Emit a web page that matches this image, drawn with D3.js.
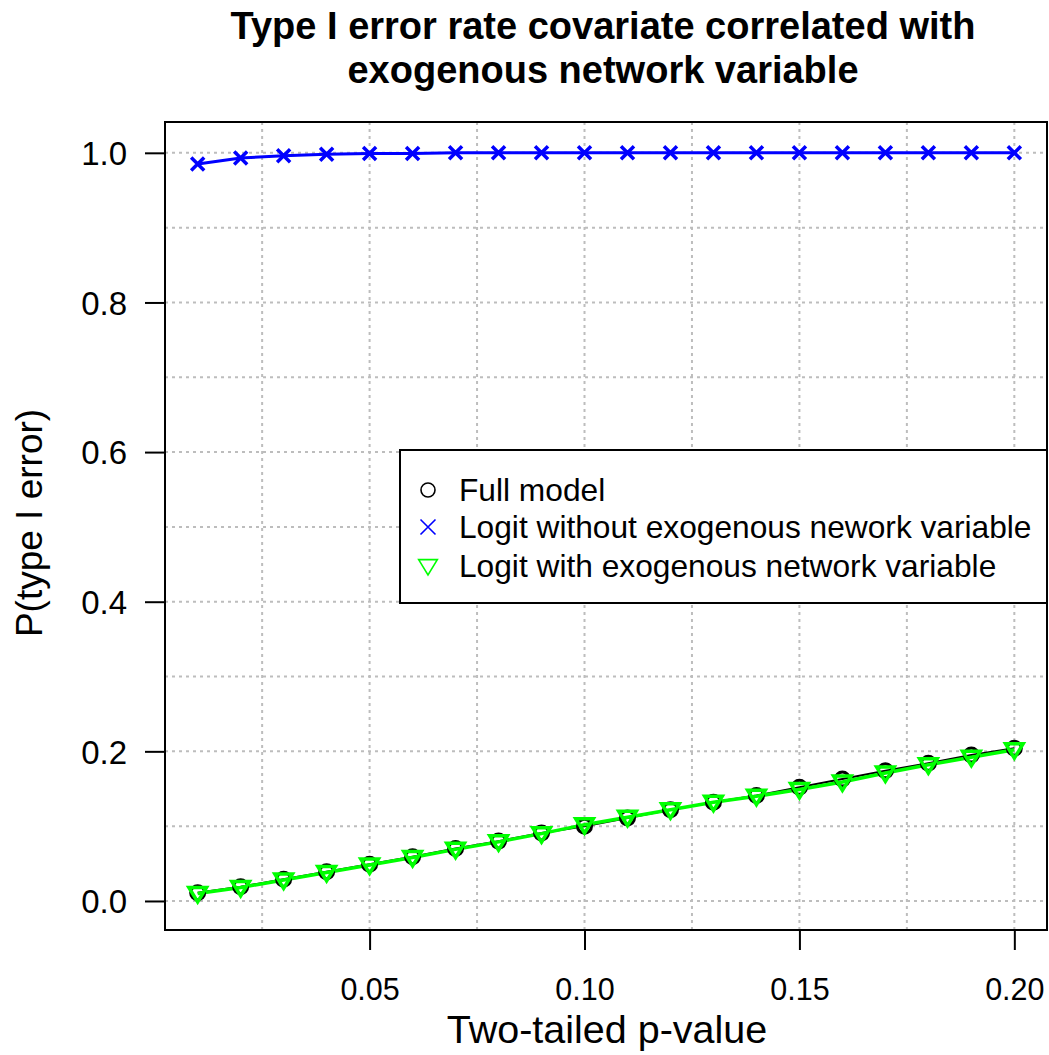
<!DOCTYPE html>
<html><head><meta charset="utf-8">
<script src="https://cdn.jsdelivr.net/npm/d3@7"></script>
<style>body{margin:0;background:#fff}svg{display:block}text{font-family:"Liberation Sans",Arial,sans-serif}</style>
</head><body><svg id="c" width="1049" height="1055"></svg>
<script>
const pValues = [0.01,0.02,0.03,0.04,0.05,0.06,0.07,0.08,0.09,0.10,0.11,0.12,0.13,0.14,0.15,0.16,0.17,0.18,0.19,0.20];
const fullModel = [0.011,0.019,0.029,0.039,0.049,0.059,0.070,0.080,0.091,0.100,0.111,0.122,0.132,0.141,0.152,0.163,0.174,0.184,0.195,0.204];
const logitWithout = [0.985,0.993,0.996,0.998,0.999,0.999,1.0,1.0,1.0,1.0,1.0,1.0,1.0,1.0,1.0,1.0,1.0,1.0,1.0,1.0];
const logitWith = [0.010,0.018,0.028,0.038,0.048,0.058,0.069,0.079,0.090,0.102,0.112,0.122,0.132,0.140,0.149,0.159,0.171,0.182,0.192,0.202];
const xTicks = [0.05,0.10,0.15,0.20];
const yTicks = [0.0,0.2,0.4,0.6,0.8,1.0];
const xGrid = [0.025,0.05,0.075,0.10,0.125,0.15,0.175,0.20];
const yGrid = [0.0,0.1,0.2,0.3,0.4,0.5,0.6,0.7,0.8,0.9,1.0];
const titleLines = ["Type I error rate covariate correlated with","exogenous network variable"];
const legendLabels = ["Full model","Logit without exogenous nework variable","Logit with exogenous network variable"];
const colors = ["#000000","#0000ff","#00ff00"];

const svg = d3.select("#c");
const L=165,R=1047,T=122,B=930;
const x = d3.scaleLinear().domain([0.0024,0.2076]).range([L,R]);
const y = d3.scaleLinear().domain([-0.0388,1.0412]).range([B,T]);

// grid
const g = svg.append("g");
g.selectAll("line.vx").data(xGrid).join("line")
  .attr("x1",d=>x(d)).attr("x2",d=>x(d)).attr("y1",T).attr("y2",B)
  .attr("stroke","#bdbdbd").attr("stroke-width",2).attr("stroke-dasharray","3,4");
g.selectAll("line.hy").data(yGrid).join("line")
  .attr("y1",d=>y(d)).attr("y2",d=>y(d)).attr("x1",L).attr("x2",R)
  .attr("stroke","#bdbdbd").attr("stroke-width",2).attr("stroke-dasharray","3,4");

// axes
const xa = svg.append("g").attr("transform",`translate(0,${B})`)
  .call(d3.axisBottom(x).tickValues(xTicks).tickFormat(d3.format(".2f")).tickSize(20));
xa.select(".domain").remove();
xa.selectAll("line").attr("stroke","#000").attr("stroke-width",2);
xa.selectAll("text").attr("font-size",30.5).attr("fill","#000").attr("dy",0).attr("y",70).attr("font-family","Liberation Sans, Arial, sans-serif");
const ya = svg.append("g").attr("transform",`translate(${L},0)`)
  .call(d3.axisLeft(y).tickValues(yTicks).tickFormat(d3.format(".1f")).tickSize(20).tickPadding(18));
ya.select(".domain").remove();
ya.selectAll("line").attr("stroke","#000").attr("stroke-width",2);
ya.selectAll("text").attr("font-size",33).attr("fill","#000").attr("dy","0.36em").attr("font-family","Liberation Sans, Arial, sans-serif");

// series lines
const series = [fullModel, logitWithout, logitWith];
const widths = [2,3,3.5];
const line = d3.line().x((d,i)=>x(pValues[i])).y(d=>y(d));
series.forEach((s,k)=>{
  svg.append("path").datum(s).attr("d",line).attr("fill","none").attr("stroke",colors[k]).attr("stroke-width",widths[k]);
});
// markers
const sym = {
  circle:(cx,cy,r)=>`M${cx+r},${cy}A${r},${r} 0 1,1 ${cx-r},${cy}A${r},${r} 0 1,1 ${cx+r},${cy}Z`,
  cross:(cx,cy,r)=>`M${cx-r},${cy-r}L${cx+r},${cy+r}M${cx-r},${cy+r}L${cx+r},${cy-r}`,
  tri:(cx,cy,r)=>`M${cx-r*1.1},${cy-r*0.75}L${cx+r*1.1},${cy-r*0.75}L${cx},${cy+r*1.05}Z`
};
svg.append("g").selectAll("path").data(fullModel).join("path")
  .attr("d",(d,i)=>sym.circle(x(pValues[i]),y(d),7)).attr("fill","none").attr("stroke","#000").attr("stroke-width",3);
svg.append("g").selectAll("path").data(logitWithout).join("path")
  .attr("d",(d,i)=>sym.cross(x(pValues[i]),y(d),6.5)).attr("fill","none").attr("stroke",colors[1]).attr("stroke-width",3.5);
svg.append("g").selectAll("path").data(logitWith).join("path")
  .attr("d",(d,i)=>sym.tri(x(pValues[i]),y(d),8)).attr("fill","none").attr("stroke",colors[2]).attr("stroke-width",3.5);

// box
svg.append("rect").attr("x",L).attr("y",T).attr("width",R-L).attr("height",B-T).attr("fill","none").attr("stroke","#000").attr("stroke-width",2);

// legend
const lg = svg.append("g");
lg.append("rect").attr("x",400).attr("y",450).attr("width",R-400).attr("height",153).attr("fill","#fff").attr("stroke","#000").attr("stroke-width",2);
const rows=[490,527,566];
const lsyms=[(cx,cy)=>sym.circle(cx,cy,7),(cx,cy)=>sym.cross(cx,cy,7.5),(cx,cy)=>sym.tri(cx,cy,8.5)];
legendLabels.forEach((t,i)=>{
  lg.append("path").attr("d",lsyms[i](428,rows[i])).attr("fill","none").attr("stroke",colors[i]).attr("stroke-width",1.6);
  lg.append("text").attr("x",459).attr("y",rows[i]).attr("dy","0.36em").attr("font-size",31.7).text(t);
});

// title
titleLines.forEach((t,i)=>{
  svg.append("text").attr("x",603).attr("y",39+i*44).attr("text-anchor","middle").attr("font-weight","bold").attr("font-size",38).text(t);
});
svg.append("text").attr("x",607).attr("y",1043).attr("text-anchor","middle").attr("font-size",39.5).text("Two-tailed p-value");
svg.append("text").attr("transform","translate(42,523) rotate(-90)").attr("text-anchor","middle").attr("font-size",37).text("P(type I error)");
</script></body></html>
